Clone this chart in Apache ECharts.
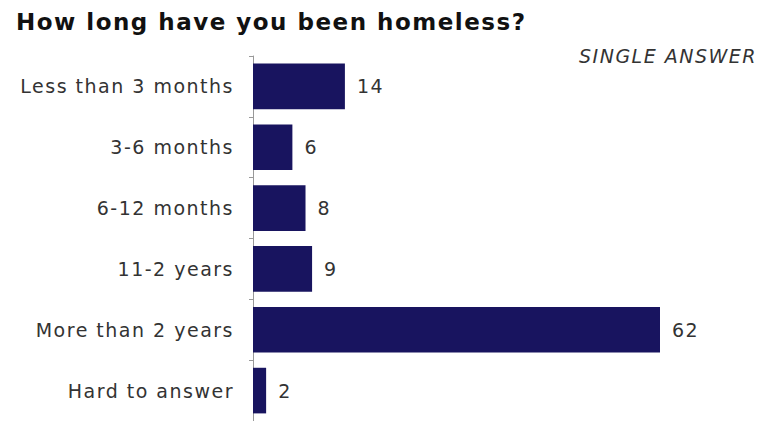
<!DOCTYPE html>
<html>
<head>
<meta charset="utf-8">
<script src="https://cdn.jsdelivr.net/npm/echarts@6/dist/echarts.min.js"></script>
<style>
html,body{margin:0;padding:0;background:#fff}
#chart{width:770px;height:421px}
#chart text{letter-spacing:1.5px}
</style>
</head>
<body>
<div id="chart"></div>
<script>
var categories = ["Less than 3 months", "3-6 months", "6-12 months", "11-2 years", "More than 2 years", "Hard to answer"];
var values = [14, 6, 8, 9, 62, 2];

var chart = echarts.init(document.getElementById('chart'), null, {renderer: 'svg'});
chart.setOption({
  animation: false,
  title: [
    {text: 'How long have you been homeless?', left: 11, top: 5,
     textStyle: {fontFamily: 'DejaVu Sans', fontWeight: 'bold', fontSize: 23, color: '#111'}},
    {text: 'SINGLE ANSWER', left: 574, top: 41,
     textStyle: {fontFamily: 'DejaVu Sans', fontStyle: 'italic', fontWeight: 'normal', fontSize: 19, color: '#333'}}
  ],
  grid: {left: 253, top: 56, width: 407, height: 366, containLabel: false},
  xAxis: {type: 'value', min: 0, max: 62, show: false},
  yAxis: {
    type: 'category', data: categories, inverse: true,
    axisLine: {show: true, lineStyle: {color: '#999', width: 1}},
    axisTick: {show: true, length: 4, lineStyle: {color: '#999'}},
    axisLabel: {margin: 19, fontFamily: 'DejaVu Sans', fontSize: 19, color: '#333'}
  },
  series: [{
    type: 'bar', data: values, barCategoryGap: '25%',
    itemStyle: {color: '#18145f'},
    label: {show: true, position: 'right', distance: 12, fontFamily: 'DejaVu Sans', fontSize: 19, color: '#333'}
  }]
});
</script>
</body>
</html>
